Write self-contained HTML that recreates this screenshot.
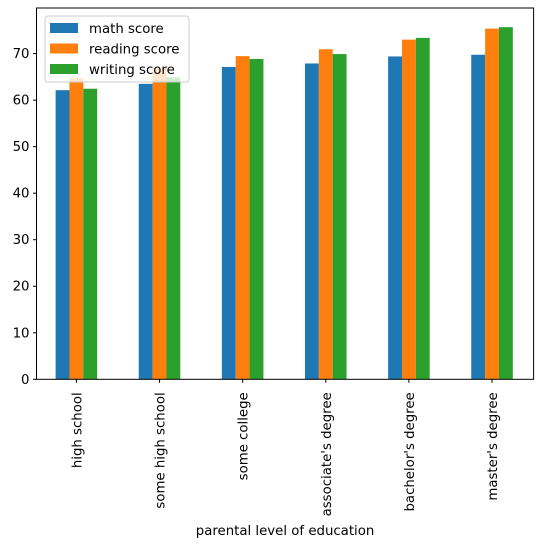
<!DOCTYPE html>
<html><head><meta charset="utf-8"><style>body{margin:0;background:#fff}svg{display:block;font-family:"DejaVu Sans","Liberation Sans",sans-serif}</style></head>
<body>
<svg id="chart" width="543" height="548" viewBox="0 0 543 548" xmlns="http://www.w3.org/2000/svg"></svg>
<script>
const categories=["high school","some high school","some college","associate's degree","bachelor's degree","master's degree"];
const seriesNames=["math score","reading score","writing score"];
const mathScore=[62.14,63.50,67.13,67.88,69.39,69.75];
const readingScore=[64.70,66.94,69.46,70.93,73.00,75.37];
const writingScore=[62.45,64.89,68.84,69.90,73.38,75.68];
const yTicks=[0,10,20,30,40,50,60,70];
const colors=["#1f77b4","#ff7f0e","#2ca02c"];
const series=[mathScore,readingScore,writingScore];
const L=36.5,R=533.6,T=8,B=379.3,yMax=79.8;
const svg=document.getElementById('chart');
const NS="http://www.w3.org/2000/svg";
function y(v){return B-(v/yMax)*(B-T);}
const xMin=-0.48,xMax=5.5;
function xc(i){return L+(i-xMin)/(xMax-xMin)*(R-L);}
function mk(t,a,p){const e=document.createElementNS(NS,t);for(const k in a)e.setAttribute(k,a[k]);(p||svg).appendChild(e);return e;}
const bw=(R-L)/(xMax-xMin)/6;
series.forEach((s,j)=>{s.forEach((v,i)=>{
const r=mk('rect',{x:xc(i)+(j-1.5)*bw,y:y(v),width:bw,height:B-y(v),fill:colors[j]});


});});
const fr=mk('rect',{x:L,y:T,width:R-L,height:B-T,fill:'none',stroke:'#000','stroke-width':1});


yTicks.forEach(t=>{
mk('line',{x1:L-3.5,x2:L,y1:y(t),y2:y(t),stroke:'#000'});
const tx=mk('text',{x:L-7,y:y(t)+4.5,'text-anchor':'end','font-size':'13.3',fill:'#000'});
tx.textContent=t;


});
categories.forEach((c,i)=>{
mk('line',{x1:xc(i),x2:xc(i),y1:B,y2:B+3.5,stroke:'#000'});
const tx=mk('text',{transform:`translate(${xc(i)+5},${B+13}) rotate(-90)`,'text-anchor':'end','font-size':'13.3',fill:'#000'});
tx.textContent=c;


});
const xl=mk('text',{x:(L+R)/2,y:535,'text-anchor':'middle','font-size':'13.3',fill:'#000'});
xl.textContent='parental level of education';


const lg=mk('g',{});


mk('rect',{x:45,y:16,width:144,height:66,rx:3,fill:'#fff','fill-opacity':0.8,stroke:'#ccc'},lg);
seriesNames.forEach((n,j)=>{
const yy=23+j*20.5;
mk('rect',{x:50,y:yy,width:28,height:10,fill:colors[j]},lg);
const tx=mk('text',{x:89,y:yy+10,'font-size':'13.3',fill:'#000'},lg);
tx.textContent=n;


});
</script>
</body></html>
